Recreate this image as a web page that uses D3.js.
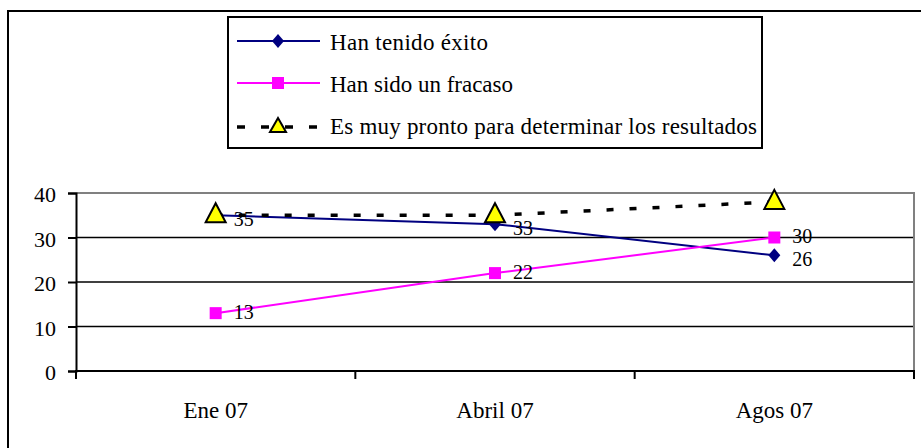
<!DOCTYPE html>
<html>
<head>
<meta charset="utf-8">
<script src="https://cdn.jsdelivr.net/npm/d3@7"></script>
<style>
  body { margin: 0; background: #fff; }
</style>
</head>
<body>
<div id="chart-area"></div>
<script>
// data
var categories = ["Ene 07", "Abril 07", "Agos 07"];
var exito = [35, 33, 26];
var fracaso = [13, 22, 30];
var pronto = [35, 35, 38];
var seriesNames = ["Han tenido éxito", "Han sido un fracaso", "Es muy pronto para determinar los resultados"];
var yTicks = [0, 10, 20, 30, 40];

var W = 921, H = 448;
var plot = {left: 76, right: 914, top: 193, bottom: 371};
var FONT = "Liberation Serif";

var svg = d3.select("#chart-area").append("svg")
    .attr("width", W)
    .attr("height", H);

// outer frame (runs off the canvas on the right and bottom)
svg.append("rect")
    .attr("x", 8).attr("y", 11)
    .attr("width", 960).attr("height", 500)
    .attr("fill", "none")
    .attr("stroke", "#000")
    .attr("stroke-width", 2);

// scales
var x = d3.scaleBand()
    .domain(categories)
    .range([plot.left, plot.right])
    .padding(0);

var y = d3.scaleLinear()
    .domain([0, 40])
    .range([plot.bottom, plot.top]);

var cx = function(i) { return x(categories[i]) + x.bandwidth() / 2; };

// gridlines
svg.append("g")
  .selectAll("line")
  .data(yTicks.filter(function(d) { return d > 0 && d < 40; }))
  .enter().append("line")
    .attr("x1", plot.left).attr("x2", plot.right)
    .attr("y1", d => y(d)).attr("y2", d => y(d))
    .attr("stroke", "#000")
    .attr("stroke-width", 1.5);

// plot border top / right (gray)
svg.append("path")
    .attr("d", "M" + plot.left + "," + y(40) + "H" + plot.right + "V" + plot.bottom)
    .attr("fill", "none")
    .attr("stroke", "#808080")
    .attr("stroke-width", 2);

// y axis
var yAxis = d3.axisLeft(y).tickValues(yTicks).tickSize(8).tickPadding(12);
var yAxisGroup = svg.append("g")
    .attr("transform", "translate(" + plot.left + ",0)")
    .call(yAxis)
    .attr("font-family", FONT);
yAxisGroup.select(".domain").attr("stroke", "#000").attr("stroke-width", 2);
yAxisGroup.selectAll(".tick line").attr("stroke", "#000").attr("stroke-width", 2);
yAxisGroup.selectAll("text")
    .attr("font-family", FONT)
    .attr("font-size", 22)
    .attr("fill", "#000")
    .attr("dy", "0.4em");

// x axis (labels centred, ticks at band edges)
var xAxis = d3.axisBottom(x).tickSize(0).tickPadding(31);
var xAxisGroup = svg.append("g")
    .attr("transform", "translate(0," + plot.bottom + ")")
    .call(xAxis)
    .attr("font-family", FONT);
xAxisGroup.select(".domain").remove();
xAxisGroup.selectAll("text")
    .attr("font-family", FONT)
    .attr("font-size", 23)
    .attr("fill", "#000");

var edges = categories.map(function(c) { return x(c); }).concat([plot.right]);
svg.append("line")
    .attr("x1", plot.left - 1).attr("x2", plot.right + 1)
    .attr("y1", plot.bottom).attr("y2", plot.bottom)
    .attr("stroke", "#000").attr("stroke-width", 2);
svg.append("g").selectAll("line")
  .data(edges)
  .enter().append("line")
    .attr("x1", d => d).attr("x2", d => d)
    .attr("y1", plot.bottom).attr("y2", plot.bottom + 8)
    .attr("stroke", "#000").attr("stroke-width", 2);

// lines
var line = d3.line()
    .x(function(d, i) { return cx(i); })
    .y(function(d) { return y(d); });

svg.append("path").datum(exito)
    .attr("d", line)
    .attr("fill", "none").attr("stroke", "#000080").attr("stroke-width", 2);

svg.append("path").datum(fracaso)
    .attr("d", line)
    .attr("fill", "none").attr("stroke", "#FF00FF").attr("stroke-width", 2);

// markers
var diamondPath = "M0,-7L6,0L0,7L-6,0Z";
var trianglePath = "M0,-11L10,8L-10,8Z";

svg.append("g").selectAll("path")
  .data(exito)
  .enter().append("path")
    .attr("d", diamondPath)
    .attr("transform", (d, i) => "translate(" + cx(i) + "," + y(d) + ")")
    .attr("fill", "#000080");

svg.append("g").selectAll("rect")
  .data(fracaso)
  .enter().append("rect")
    .attr("x", (d, i) => cx(i) - 6)
    .attr("y", d => y(d) - 6)
    .attr("width", 12).attr("height", 12)
    .attr("fill", "#FF00FF");

svg.append("path").datum(pronto)
    .attr("d", line)
    .attr("fill", "none").attr("stroke", "#000").attr("stroke-width", 3.5)
    .attr("stroke-dasharray", "7,16");

svg.append("g").selectAll("path")
  .data(pronto)
  .enter().append("path")
    .attr("d", trianglePath)
    .attr("transform", (d, i) => "translate(" + cx(i) + "," + (y(d) - 1) + ")")
    .attr("fill", "#FFFF00")
    .attr("stroke", "#000")
    .attr("stroke-width", 2);

// value labels
[[exito, 6], [fracaso, 1]].forEach(function(s) {
  svg.append("g").selectAll("text")
    .data(s[0])
    .enter().append("text")
      .attr("x", (d, i) => cx(i) + 18)
      .attr("y", d => y(d) + s[1])
      .attr("dominant-baseline", "middle")
      .attr("font-family", FONT)
      .attr("font-size", 20)
      .text(d => d);
});

// legend
var legend = svg.append("g");
legend.append("rect")
    .attr("x", 228).attr("y", 17)
    .attr("width", 534).attr("height", 131)
    .attr("fill", "#fff")
    .attr("stroke", "#000")
    .attr("stroke-width", 2);

var rowY = [41, 83, 127];
var rowBase = [50, 92, 134];
var rowLen = [158, 183, 427];
var lx1 = 237, lx2 = 320, lm = 278;

legend.append("line")
    .attr("x1", lx1).attr("x2", lx2).attr("y1", rowY[0]).attr("y2", rowY[0])
    .attr("stroke", "#000080").attr("stroke-width", 2);
legend.append("path")
    .attr("d", diamondPath)
    .attr("transform", "translate(" + lm + "," + rowY[0] + ")")
    .attr("fill", "#000080");

legend.append("line")
    .attr("x1", lx1).attr("x2", lx2).attr("y1", rowY[1]).attr("y2", rowY[1])
    .attr("stroke", "#FF00FF").attr("stroke-width", 2);
legend.append("rect")
    .attr("x", lm - 6).attr("y", rowY[1] - 6)
    .attr("width", 12).attr("height", 12)
    .attr("fill", "#FF00FF");

legend.append("line")
    .attr("x1", lx1).attr("x2", lx2).attr("y1", rowY[2]).attr("y2", rowY[2])
    .attr("stroke", "#000").attr("stroke-width", 3.5)
    .attr("stroke-dasharray", "8,16");
legend.append("path")
    .attr("d", "M0,-8L8,6L-8,6Z")
    .attr("transform", "translate(" + lm + "," + (rowY[2] - 1) + ")")
    .attr("fill", "#FFFF00").attr("stroke", "#000").attr("stroke-width", 2);

legend.selectAll("text.lg")
  .data(seriesNames)
  .enter().append("text")
    .attr("class", "lg")
    .attr("x", 330)
    .attr("y", (d, i) => rowBase[i])
    .attr("font-family", FONT)
    .attr("font-size", 23)
    .attr("textLength", (d, i) => rowLen[i])
    .attr("lengthAdjust", "spacing")
    .text(d => d);
</script>
</body>
</html>
